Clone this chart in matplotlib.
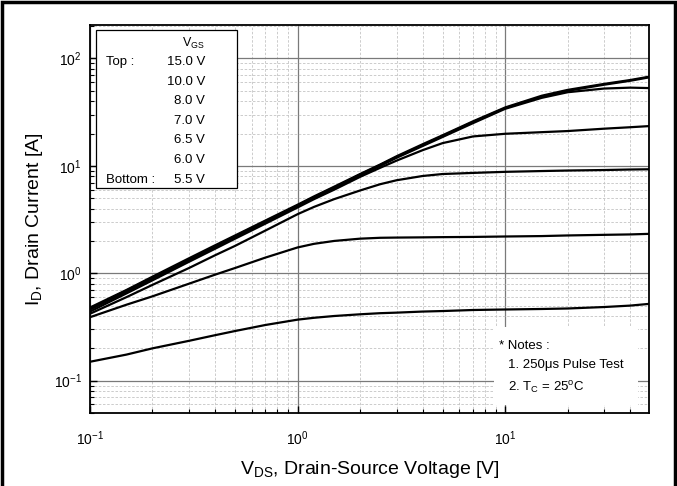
import numpy as np
import matplotlib
matplotlib.use("Agg")
import matplotlib.pyplot as plt
from matplotlib.patches import Rectangle
from matplotlib.ticker import LogLocator

plt.rcParams['font.family'] = ['Liberation Sans', 'DejaVu Sans']
plt.rcParams['mathtext.fontset'] = 'custom'
plt.rcParams['mathtext.rm'] = 'Liberation Sans'
plt.rcParams['mathtext.it'] = 'Liberation Sans'
plt.rcParams['mathtext.default'] = 'regular'

# drain-source voltage grid (V)
vds = [0.1, 0.15, 0.2, 0.3, 0.4, 0.5, 0.7, 1, 1.2, 1.5, 2, 2.5, 3, 4, 5, 7, 10, 15, 20, 30, 40, 50]

# drain current (A) for each gate voltage
id_15v = [0.48, 0.70, 0.93, 1.38, 1.82, 2.25, 3.1, 4.35, 5.2, 6.4, 8.4, 10.3, 12.3, 15.9, 19.3, 26, 35, 45, 51, 58, 63, 68]
id_10v = [0.47, 0.69, 0.91, 1.35, 1.78, 2.2, 3.05, 4.28, 5.1, 6.3, 8.3, 10.2, 12.1, 15.6, 19.0, 25.6, 34.5, 44, 50, 57, 62, 67]
id_8v = [0.46, 0.67, 0.89, 1.32, 1.74, 2.15, 2.98, 4.2, 5.0, 6.2, 8.1, 10.0, 11.9, 15.3, 18.6, 25, 34, 43, 48.5, 52.5, 53.5, 53]
id_7v = [0.44, 0.65, 0.86, 1.28, 1.69, 2.1, 2.9, 4.1, 4.9, 6.0, 7.9, 9.6, 11.2, 14.0, 16.3, 18.8, 19.9, 20.6, 21.1, 22.2, 22.9, 23.5]
id_6v5 = [0.42, 0.60, 0.78, 1.12, 1.47, 1.8, 2.5, 3.55, 4.15, 4.9, 5.9, 6.75, 7.35, 8.05, 8.4, 8.6, 8.8, 8.95, 9.05, 9.15, 9.25, 9.3]
id_6v = [0.39, 0.51, 0.61, 0.80, 0.97, 1.12, 1.4, 1.74, 1.88, 2.0, 2.1, 2.14, 2.15, 2.16, 2.17, 2.18, 2.2, 2.22, 2.25, 2.28, 2.3, 2.33]
id_5v5 = [0.15, 0.175, 0.2, 0.235, 0.265, 0.29, 0.33, 0.37, 0.385, 0.40, 0.415, 0.425, 0.43, 0.44, 0.445, 0.455, 0.46, 0.465, 0.47, 0.485, 0.5, 0.52]

curves = [id_15v, id_10v, id_8v, id_7v, id_6v5, id_6v, id_5v5]
vgs_labels = ['15.0 V', '10.0 V', '8.0 V', '7.0 V', '6.5 V', '6.0 V', '5.5 V']

W, H = 677, 486
fig = plt.figure(figsize=(W / 100, H / 100), dpi=100)
ax = fig.add_axes([90 / W, 1 - 413 / H, (649 - 90) / W, (413 - 25) / H])

def fx(px):
    return px / W

def fy(py):
    return 1 - py / H

for cur in curves:
    ax.plot(vds, cur, color='black', lw=1.6, zorder=3, solid_capstyle='round', solid_joinstyle='round')

ax.set_xscale('log')
ax.set_yscale('log')
ax.set_xlim(0.1, 49.3)
ax.set_ylim(0.05, 205)
ax.xaxis.set_minor_locator(LogLocator(base=10, subs=np.arange(2, 10)))
ax.yaxis.set_minor_locator(LogLocator(base=10, subs=np.arange(2, 10)))

ax.grid(which='major', color='#7a7a7a', lw=0.9, ls='-', zorder=0)
ax.grid(which='minor', color='#c4c4c4', lw=0.6, ls=(0, (3, 2)), zorder=0)
ax.set_axisbelow(True)

ax.tick_params(which='both', direction='in', top=False, right=False, labelsize=10, colors='black')
ax.tick_params(which='major', length=5, width=1)
ax.tick_params(which='minor', length=3, width=0.8)
ax.tick_params(axis='x', pad=12)
ax.tick_params(axis='y', pad=6)
for s in ax.spines.values():
    s.set_linewidth(1.3)

ax.set_xlabel(r'V$_{DS}$, Drain-Source Voltage [V]', fontsize=14, labelpad=8)
ax.set_ylabel(r'I$_{D}$, Drain Current [A]', fontsize=14, labelpad=6)

# legend box
ax.add_patch(Rectangle((fx(96), fy(188)), fx(237) - fx(96), fy(30) - fy(188),
                       transform=fig.transFigure, facecolor='white', edgecolor='black',
                       lw=0.9, zorder=4))
fig.text(fx(205), fy(43), r'V$_{GS}$', ha='right', va='center', fontsize=9, zorder=5)
for i, lab in enumerate(vgs_labels):
    fig.text(fx(205), fy(62 + i * 19.6), lab, ha='right', va='center', fontsize=9.5, zorder=5)
fig.text(fx(106), fy(62), 'Top :', ha='left', va='center', fontsize=9.5, zorder=5)
fig.text(fx(106), fy(180), 'Bottom :', ha='left', va='center', fontsize=9.5, zorder=5)

# notes
ax.add_patch(Rectangle((fx(494), fy(405)), fx(638) - fx(494), fy(327) - fy(405),
                       transform=fig.transFigure, facecolor='white', edgecolor='none', zorder=1.5))
fig.text(fx(499), fy(346), '* Notes :', ha='left', va='center', fontsize=9.5)
fig.text(fx(508), fy(365), '1. 250\u03bcs Pulse Test', ha='left', va='center', fontsize=9.5)
fig.text(fx(508), fy(388), r'2. T$_{C}$ = 25$^{o}$C', ha='left', va='center', fontsize=9.5)

# outer frame
fig.add_artist(Rectangle((fx(2), fy(500)), fx(675) - fx(2), fy(2) - fy(500),
                         transform=fig.transFigure, facecolor='none', edgecolor='black', lw=2.5))

fig.savefig('out.png', dpi=100)
